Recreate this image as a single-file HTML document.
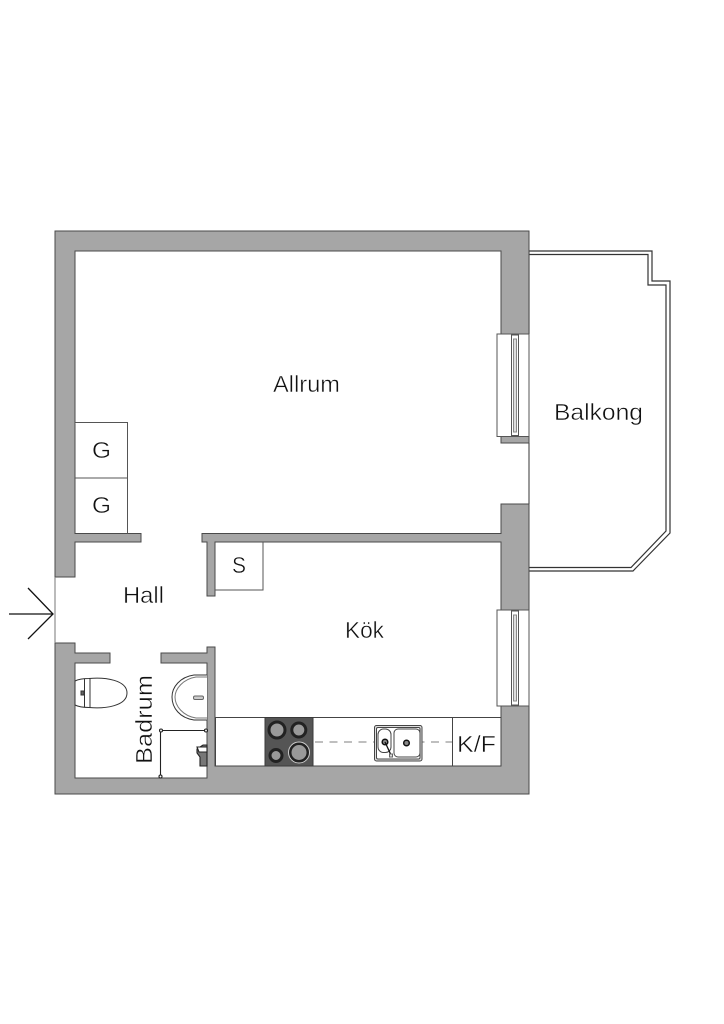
<!DOCTYPE html>
<html>
<head>
<meta charset="utf-8">
<style>
html,body{margin:0;padding:0;background:#fff}
svg{display:block}
text{font-family:"Liberation Sans",sans-serif;fill:#111;stroke:#fff;stroke-width:.45px}
</style>
</head>
<body>
<svg width="724" height="1024" viewBox="0 0 724 1024" xmlns="http://www.w3.org/2000/svg">
<!-- Balcony -->
<g fill="none" stroke="#333" stroke-width="1.2">
<path d="M529 251H652V281H670V533L633 571H529"/>
<path d="M529 254.500H648V285H666V531L631 567.500H529"/>
<line x1="529" y1="251" x2="529" y2="334" stroke="#555"/>
<line x1="529" y1="443" x2="529" y2="504" stroke="#555"/>
</g>
<!-- Walls -->
<g fill="#a6a6a6" stroke="#4a4a4a" stroke-width="1">
<path d="M55 231H529V334H501V251H75V533.500H141V542H75V577H55Z"/>
<path d="M501 436.500H529V443H501Z"/>
<path d="M501 504H529V610H501V542H215V596H207V542H202V533.500H501Z"/>
<path d="M55 643H75V653H110V663H75V778H207V663H161V653H207V647H215V766H501V706H529V794H55Z"/>
</g>
<!-- Door threshold -->
<line x1="55" y1="577" x2="55" y2="643" stroke="#777" stroke-width="1"/>
<!-- Entry arrow -->
<g fill="none" stroke="#111" stroke-width="1.300">
<path d="M9 614H53"/>
<path d="M28 588L53 614L28 639"/>
</g>
<!-- Windows -->
<g fill="#fff" stroke="#555" stroke-width="1">
<path d="M529 334H497V436.500H529"/>
<rect x="511.500" y="335" width="7" height="100.500"/>
<rect x="513.500" y="339" width="3" height="93" fill="#ddd" stroke="#888"/>
<path d="M529 610H497V706H529"/>
<rect x="511.500" y="611" width="7" height="94"/>
<rect x="513.500" y="615" width="3" height="86" fill="#ddd" stroke="#888"/>
<line x1="529" y1="334" x2="529" y2="436"/>
<line x1="529" y1="610" x2="529" y2="706"/>
</g>
<!-- Closets -->
<g fill="#fff" stroke="#555" stroke-width="1">
<path d="M75 422.500H127.500V533.500"/>
<path d="M75 478H127.500"/>
<path d="M263 542V590H215"/>
</g>
<!-- Toilet -->
<g fill="#fff" stroke="#333" stroke-width="1">
<path d="M75 681C79 679 83 678.500 89 678.500C105 677 127 680 127 693C127 706 105 709 89 707.500C83 707.500 79 707 75 705Z"/>
<line x1="84.500" y1="679" x2="84.500" y2="707"/>
<line x1="90" y1="678.500" x2="90" y2="707.500"/>
<rect x="81" y="691" width="3" height="4" fill="#666"/>
</g>
<!-- Basin -->
<g fill="#fff" stroke="#333" stroke-width="1">
<path d="M207 675H194C180 677 172 687 172 697C172 708 180 718 194 720H207"/>
<path d="M207 677H196C183 679 175 689 175 697C175 706 183 716 196 718H207" stroke="#777"/>
<rect x="193.500" y="696" width="10" height="3.500" rx="1.500" fill="#ccc" stroke="#666"/>
</g>
<!-- Shower -->
<g fill="#fff" stroke="#222" stroke-width="1.100">
<path d="M161 730.500H206M160.500 730.500V777" fill="none"/>
<circle cx="161" cy="730.500" r="1.500"/>
<circle cx="206" cy="730.500" r="1.500"/>
<circle cx="160.500" cy="776.500" r="1.500"/>
<path d="M197 749L203 745H207V766H200V757L197 753Z" fill="#777" stroke="#222"/>
<path d="M197 747H207V752H199Z" fill="#fff"/>
</g>
<!-- Kitchen counter -->
<g fill="#fff" stroke="#444" stroke-width="1">
<rect x="215.500" y="717.500" width="285.500" height="48.500"/>
<line x1="452.500" y1="717.500" x2="452.500" y2="766"/>
</g>
<line x1="315" y1="742" x2="452" y2="742" stroke="#999" stroke-width="1.300" stroke-dasharray="8 6.500"/>
<!-- Hob -->
<rect x="265" y="717.500" width="48" height="48.500" fill="#555" stroke="#3a3a3a"/>
<g stroke="#222" stroke-width="3" fill="#999">
<circle cx="277" cy="730" r="8"/>
<circle cx="298.800" cy="730" r="7"/>
<circle cx="276" cy="755.500" r="6"/>
<circle cx="299" cy="752.500" r="9"/>
</g>
<circle cx="299" cy="752.500" r="10.500" fill="none" stroke="#ccc" stroke-width="1"/>
<!-- Sink -->
<g fill="#fff" stroke="#444" stroke-width="1">
<rect x="374.500" y="725.500" width="47.500" height="35.500" rx="2" fill="#ddd"/>
<rect x="376.500" y="727.500" width="43.500" height="31.500" rx="1.500"/>
<rect x="378" y="729" width="13" height="23.500" rx="5.500"/>
<rect x="394" y="729" width="26" height="28" rx="4"/>
<circle cx="385" cy="742" r="2.800" fill="#888" stroke="#111" stroke-width="1.500"/>
<circle cx="406.500" cy="743" r="2.800" fill="#888" stroke="#111" stroke-width="1.500"/>
<path d="M385 742L391 755" stroke="#111" stroke-width="1.300"/>
<rect x="389.500" y="754" width="3" height="3" fill="#ddd" stroke="#666"/>
</g>
<!-- Labels -->
<text x="273" y="392" font-size="23" textLength="67" lengthAdjust="spacingAndGlyphs">Allrum</text>
<text x="554" y="420" font-size="23" textLength="89" lengthAdjust="spacingAndGlyphs">Balkong</text>
<text x="123" y="603" font-size="23" textLength="41" lengthAdjust="spacingAndGlyphs">Hall</text>
<text x="345" y="638" font-size="23" textLength="39" lengthAdjust="spacingAndGlyphs">Kök</text>
<text x="457" y="752" font-size="23" textLength="39" lengthAdjust="spacingAndGlyphs">K/F</text>
<text x="92" y="458" font-size="23" textLength="19" lengthAdjust="spacingAndGlyphs">G</text>
<text x="92" y="513" font-size="23" textLength="19" lengthAdjust="spacingAndGlyphs">G</text>
<text x="232" y="573" font-size="23" textLength="14" lengthAdjust="spacingAndGlyphs">S</text>
<text transform="translate(152 764) rotate(-90)" font-size="23" textLength="89" lengthAdjust="spacingAndGlyphs">Badrum</text>
</svg>
</body>
</html>
